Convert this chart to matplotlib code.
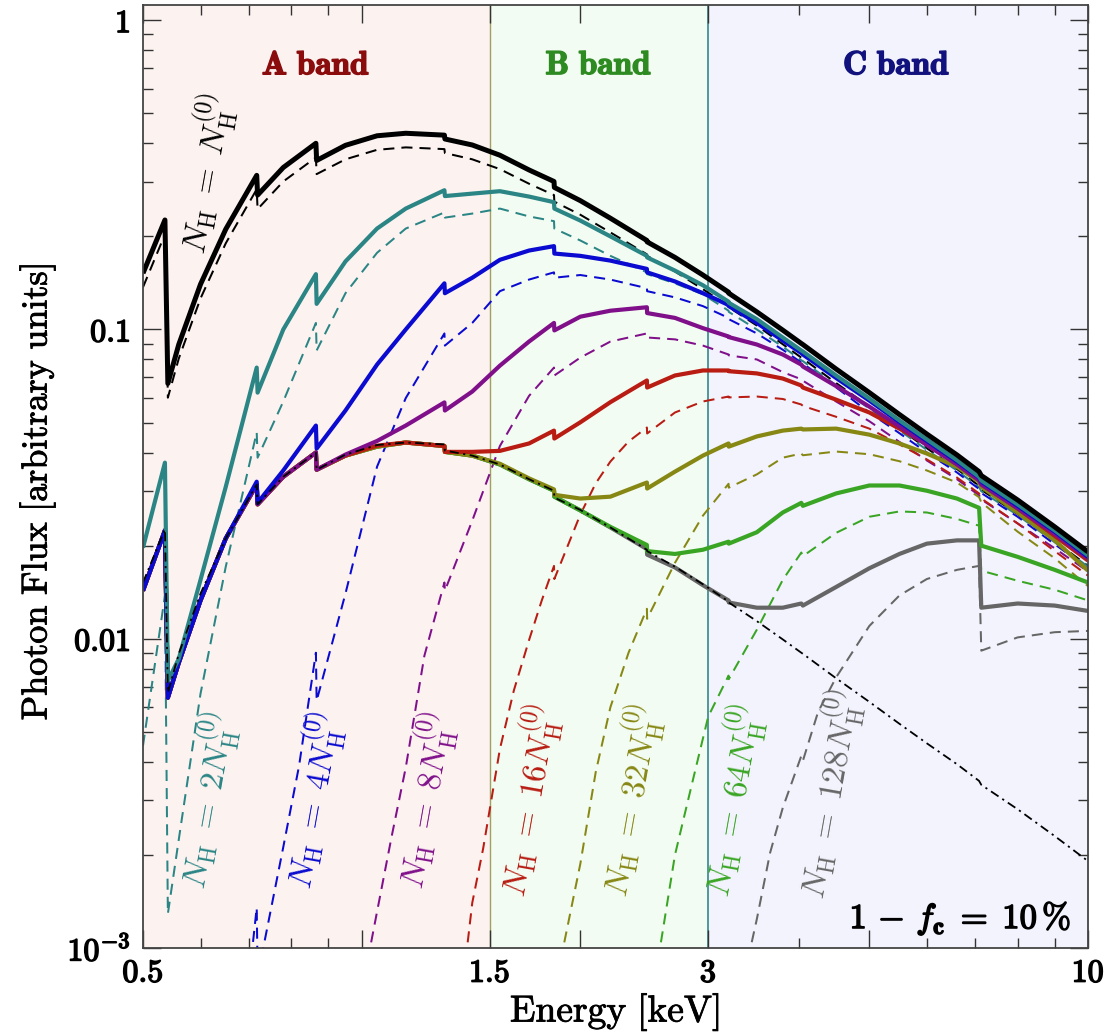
import matplotlib
matplotlib.use("Agg")
import matplotlib.pyplot as plt
import matplotlib.patheffects as pe
from matplotlib.ticker import FixedLocator, FixedFormatter, NullFormatter, LogLocator

plt.rcParams["mathtext.fontset"] = "cm"
plt.rcParams["font.family"] = ["DejaVu Serif"]
plt.rcParams["axes.unicode_minus"] = False

# ---------------- data ----------------
energy_grid = [0.50, 0.536, 0.541, 0.56, 0.60, 0.65, 0.717, 0.719, 0.78, 0.865, 0.867,
               0.95, 1.05, 1.15, 1.30, 1.302, 1.42, 1.55, 1.70, 1.84, 1.842, 2.0, 2.2,
               2.47, 2.472, 2.7, 2.95, 3.2, 3.202, 3.5, 3.8, 4.03, 4.05, 4.5, 5.0, 5.5,
               6.0, 6.6, 7.08, 7.13, 8.0, 9.0, 10.0]

# total spectra (solid lines) on energy_grid
flux_1x_total = [0.152, 0.226, 0.0669, 0.0894, 0.140, 0.211, 0.315, 0.272, 0.334, 0.400, 0.352,
                 0.394, 0.423, 0.431, 0.425, 0.413, 0.395, 0.366, 0.328, 0.301, 0.288, 0.261, 0.229,
                 0.194, 0.192, 0.171, 0.150, 0.132, 0.131, 0.114, 0.0995, 0.0901, 0.0894, 0.0745,
                 0.0625, 0.0531, 0.0459, 0.0393, 0.0347, 0.0337, 0.0281, 0.0230, 0.0191]
flux_2x_total = [0.0197, 0.0371, 0.00731, 0.00861, 0.0155, 0.0310, 0.0753, 0.0625, 0.100, 0.151, 0.121,
                 0.166, 0.212, 0.246, 0.282, 0.270, 0.275, 0.280, 0.269, 0.258, 0.246, 0.225, 0.200,
                 0.173, 0.171, 0.155, 0.139, 0.123, 0.122, 0.108, 0.0942, 0.0855, 0.0849, 0.0710,
                 0.0598, 0.0508, 0.0441, 0.0378, 0.0334, 0.0325, 0.0272, 0.0224, 0.0186]
flux_4x_total = [0.0143, 0.0224, 0.00645, 0.00836, 0.0133, 0.0211, 0.0322, 0.0275, 0.0350, 0.0489, 0.0412,
                 0.0547, 0.0770, 0.100, 0.141, 0.131, 0.147, 0.168, 0.180, 0.186, 0.176, 0.173, 0.167,
                 0.157, 0.153, 0.143, 0.131, 0.120, 0.119, 0.105, 0.0921, 0.0839, 0.0830, 0.0697,
                 0.0589, 0.0502, 0.0436, 0.0374, 0.0332, 0.0322, 0.0269, 0.0222, 0.0184]
flux_8x_total = [0.0143, 0.0224, 0.00645, 0.00836, 0.0133, 0.0211, 0.0315, 0.0272, 0.0334, 0.0400, 0.0352,
                 0.0394, 0.0436, 0.0489, 0.0581, 0.0547, 0.0630, 0.0764, 0.0914, 0.105, 0.0993, 0.110, 0.115,
                 0.118, 0.113, 0.109, 0.101, 0.0949, 0.0945, 0.0894, 0.0830, 0.0770, 0.0759, 0.0656,
                 0.0563, 0.0486, 0.0423, 0.0366, 0.0325, 0.0315, 0.0264, 0.0218, 0.0182]
flux_16x_total = [0.0143, 0.0224, 0.00645, 0.00836, 0.0133, 0.0211, 0.0315, 0.0272, 0.0334, 0.0400, 0.0352,
                  0.0391, 0.0421, 0.0431, 0.0420, 0.0402, 0.0402, 0.0405, 0.0428, 0.0471, 0.0444, 0.0501, 0.0582,
                  0.0684, 0.0649, 0.0710, 0.0737, 0.0737, 0.0733, 0.0721, 0.0694, 0.0659, 0.0649, 0.0593,
                  0.0539, 0.0478, 0.0425, 0.0371, 0.0329, 0.0317, 0.0264, 0.0215, 0.0179]
flux_32x_total = [0.0143, 0.0224, 0.00645, 0.00836, 0.0133, 0.0211, 0.0315, 0.0272, 0.0334, 0.0400, 0.0352,
                  0.0391, 0.0418, 0.0431, 0.0420, 0.0402, 0.0391, 0.0368, 0.0330, 0.0304, 0.0292, 0.0284, 0.0288,
                  0.0320, 0.0306, 0.0347, 0.0391, 0.0428, 0.0418, 0.0451, 0.0471, 0.0478, 0.0475, 0.0478,
                  0.0457, 0.0428, 0.0397, 0.0360, 0.0322, 0.0310, 0.0256, 0.0208, 0.0166]
flux_64x_total = [0.0143, 0.0224, 0.00645, 0.00836, 0.0133, 0.0211, 0.0315, 0.0272, 0.0334, 0.0400, 0.0352,
                  0.0391, 0.0418, 0.0431, 0.0420, 0.0402, 0.0391, 0.0366, 0.0328, 0.0301, 0.0288, 0.0260, 0.0230,
                  0.0201, 0.0192, 0.0188, 0.0194, 0.0206, 0.0203, 0.0221, 0.0256, 0.0275, 0.0269, 0.0295,
                  0.0313, 0.0313, 0.0301, 0.0284, 0.0265, 0.0200, 0.0184, 0.0167, 0.0152]
flux_128x_total = [0.0143, 0.0224, 0.00645, 0.00836, 0.0133, 0.0211, 0.0315, 0.0272, 0.0334, 0.0400, 0.0352,
                   0.0391, 0.0418, 0.0431, 0.0420, 0.0402, 0.0391, 0.0366, 0.0328, 0.0301, 0.0288, 0.0260, 0.0229,
                   0.0195, 0.0187, 0.0170, 0.0149, 0.0133, 0.0131, 0.0126, 0.0126, 0.0130, 0.0128, 0.0147,
                   0.0169, 0.0188, 0.0203, 0.0208, 0.0208, 0.0126, 0.0130, 0.0128, 0.0123]
# uncovered (leaking) fraction, dash-dot line
flux_leak = [0.0152, 0.0226, 0.00669, 0.00894, 0.0140, 0.0211, 0.0315, 0.0272, 0.0334, 0.0400, 0.0352,
             0.0394, 0.0423, 0.0431, 0.0425, 0.0406, 0.0391, 0.0366, 0.0328, 0.0301, 0.0286, 0.0261, 0.0229,
             0.0194, 0.0192, 0.0171, 0.0150, 0.0132, 0.0131, 0.0114, 0.00995, 0.00901, 0.00894, 0.00745,
             0.00625, 0.00531, 0.00459, 0.00393, 0.00347, 0.00337, 0.00281, 0.00230, 0.00191]

# covered components (dashed lines)
flux_1x_covered = [0.137, 0.203, 0.0602, 0.0805, 0.126, 0.190, 0.284, 0.245, 0.301, 0.360, 0.318,
                   0.355, 0.381, 0.388, 0.383, 0.372, 0.355, 0.330, 0.296, 0.272, 0.259, 0.235, 0.206,
                   0.175, 0.173, 0.154, 0.135, 0.119, 0.118, 0.103, 0.0896, 0.0811, 0.0805, 0.0671,
                   0.0563, 0.0478, 0.0413, 0.0354, 0.0312, 0.0303, 0.0253, 0.0207, 0.0172]
flux_2x_covered = [0.00451, 0.0138, 0.00129, 0.00224, 0.00664, 0.0171, 0.0465, 0.0385, 0.0585, 0.105, 0.0855,
                   0.131, 0.177, 0.212, 0.239, 0.230, 0.237, 0.246, 0.232, 0.224, 0.212, 0.194, 0.173,
                   0.153, 0.151, 0.141, 0.130, 0.115, 0.114, 0.100, 0.0880, 0.0795, 0.0790, 0.0660,
                   0.0555, 0.0472, 0.0408, 0.0350, 0.0309, 0.0300, 0.0251, 0.0205, 0.0171]

energy_4x_covered = [0.70, 0.717, 0.719, 0.732, 0.78, 0.82, 0.865, 0.867, 0.95, 1.05, 1.15, 1.30, 1.302,
                     1.42, 1.55, 1.70, 1.84, 1.842, 2.0, 2.2, 2.47, 2.472, 2.7, 2.95, 3.2, 3.202, 3.5,
                     3.8, 4.03, 4.05, 4.5, 5.0, 5.5, 6.0, 6.6, 7.08, 7.13, 8.0, 9.0, 10.0]
flux_4x_covered = [0.0008, 0.00135, 0.00085, 0.00100, 0.00212, 0.00388, 0.00901, 0.00630, 0.0140, 0.0360,
                   0.060, 0.0971, 0.0887, 0.105, 0.133, 0.145, 0.153, 0.147, 0.150, 0.145, 0.136, 0.133,
                   0.127, 0.119, 0.109, 0.108, 0.0971, 0.0860, 0.0782, 0.0776, 0.0650, 0.0539, 0.0462,
                   0.0400, 0.0345, 0.0305, 0.0296, 0.0248, 0.0202, 0.0169]

energy_8x_covered = [1.00, 1.027, 1.05, 1.10, 1.15, 1.22, 1.30, 1.302, 1.42, 1.55, 1.70, 1.84, 1.842, 2.0,
                     2.2, 2.47, 2.472, 2.7, 2.95, 3.2, 3.202, 3.5, 3.8, 4.03, 4.05, 4.5, 5.0, 5.5, 6.0,
                     6.6, 7.08, 7.13, 8.0, 9.0, 10.0]
flux_8x_covered = [0.0007, 0.00100, 0.00131, 0.00230, 0.00383, 0.00881, 0.0152, 0.0143, 0.0241, 0.042,
                   0.061, 0.0753, 0.0710, 0.0811, 0.0914, 0.0971, 0.0942, 0.0929, 0.0887, 0.083, 0.0825,
                   0.080, 0.0728, 0.0690, 0.0683, 0.0585, 0.0505, 0.0433, 0.0377, 0.0328, 0.0291, 0.0282,
                   0.0236, 0.0196, 0.0165]

energy_16x_covered = [1.37, 1.40, 1.42, 1.47, 1.55, 1.62, 1.70, 1.77, 1.84, 1.842, 2.0, 2.1, 2.2, 2.33,
                      2.47, 2.472, 2.7, 2.95, 3.2, 3.202, 3.5, 3.8, 4.03, 4.05, 4.5, 5.0, 5.5, 6.0, 6.6,
                      7.08, 7.13, 8.0, 9.0, 10.0]
flux_16x_covered = [0.0008, 0.00105, 0.00140, 0.00210, 0.00440, 0.00680, 0.0099, 0.0133, 0.0172, 0.0156,
                    0.0252, 0.0318, 0.0374, 0.0434, 0.0482, 0.0461, 0.0539, 0.0585, 0.0607, 0.0603, 0.0607,
                    0.0596, 0.0572, 0.0566, 0.0522, 0.0478, 0.0425, 0.0380, 0.0332, 0.0295, 0.0284, 0.0236,
                    0.0192, 0.0160]

energy_32x_covered = [1.86, 1.894, 2.0, 2.1, 2.2, 2.33, 2.47, 2.472, 2.7, 2.95, 3.2, 3.202, 3.5, 3.8,
                      4.03, 4.05, 4.5, 5.0, 5.5, 6.0, 6.6, 7.08, 7.13, 8.0, 9.0, 10.0]
flux_32x_covered = [0.0008, 0.0010, 0.00187, 0.0037, 0.0060, 0.0090, 0.0125, 0.0116, 0.0176, 0.0250,
                    0.0317, 0.0308, 0.0340, 0.0385, 0.0397, 0.0392, 0.0403, 0.0395, 0.0375, 0.0350, 0.0320,
                    0.0287, 0.0276, 0.0222, 0.0182, 0.0148]

energy_64x_covered = [2.53, 2.575, 2.7, 2.85, 3.0, 3.2, 3.202, 3.5, 3.8, 4.03, 4.05, 4.5, 5.0, 5.5, 6.0,
                      6.6, 7.08, 7.13, 8.0, 9.0, 10.0]
flux_64x_covered = [0.0008, 0.0010, 0.0020, 0.0034, 0.0056, 0.0076, 0.0074, 0.0107, 0.0155, 0.0190, 0.0185,
                    0.0220, 0.0248, 0.0258, 0.0256, 0.0244, 0.0232, 0.0166, 0.0154, 0.0144, 0.0133]

energy_128x_covered = [3.38, 3.43, 3.5, 3.65, 3.8, 4.03, 4.05, 4.25, 4.5, 5.0, 5.5, 6.0, 6.6, 7.08, 7.13,
                       8.0, 9.0, 10.0]
flux_128x_covered = [0.0008, 0.0010, 0.00124, 0.00203, 0.00284, 0.00418, 0.00403, 0.0058, 0.0075, 0.0110,
                     0.0138, 0.0156, 0.0167, 0.0172, 0.00915, 0.0101, 0.0105, 0.0106]

curve_names = ["1", "2", "4", "8", "16", "32", "64", "128"]
curve_colors = ["#000000", "#2b8585", "#0a0ad0", "#80108a", "#b81c12", "#878714", "#3aa524", "#666666"]

band_edges = [0.5, 1.5, 3.0, 10.0]
band_names = ["A band", "B band", "C band"]
band_label_x = [0.865, 2.12, 5.45]
band_fill = ["#fcf3f1", "#f3fcf2", "#f2f3fc"]
band_text = ["#8a0c0c", "#2e8b22", "#12127e"]

x_major = [0.5, 1, 1.5, 2, 3, 5, 10]
x_major_labels = ["0.5", "", "1.5", "", "3", "", "10"]
x_minor = [0.6, 0.7, 0.8, 0.9, 4, 6, 7, 8, 9]
y_major = [1e-3, 1e-2, 1e-1, 1]
y_major_labels = [r"$\mathbf{10^{-3}}$", r"$\mathbf{0.01}$", r"$\mathbf{0.1}$", r"$\mathbf{1}$"]

# label anchor points (energy, flux)
label_pos = [(0.610, 0.320), (0.612, 0.0030), (0.857, 0.0030), (1.223, 0.0030),
             (1.695, 0.0030), (2.344, 0.0030), (3.237, 0.0030), (4.40, 0.00315)]

# ---------------- figure ----------------
W, H = 1112, 1036
fig = plt.figure(figsize=(W / 100, H / 100), dpi=100)
ax = fig.add_axes([143 / W, 1 - 948 / H, (1088 - 143) / W, (948 - 5) / H])
ax.set_xscale("log")
ax.set_yscale("log")
ax.set_xlim(0.5, 10)
ax.set_ylim(1e-3, 1.12)

for i in range(3):
    ax.axvspan(band_edges[i], band_edges[i + 1], color=band_fill[i], lw=0, zorder=0)
ax.axvline(1.5, color="#a0a060", lw=1.0, zorder=1)
ax.axvline(3.0, color="#4f9999", lw=1.4, zorder=1)

covered = [(energy_grid, flux_1x_covered), (energy_grid, flux_2x_covered),
           (energy_4x_covered, flux_4x_covered), (energy_8x_covered, flux_8x_covered),
           (energy_16x_covered, flux_16x_covered), (energy_32x_covered, flux_32x_covered),
           (energy_64x_covered, flux_64x_covered), (energy_128x_covered, flux_128x_covered)]
totals = [flux_1x_total, flux_2x_total, flux_4x_total, flux_8x_total,
          flux_16x_total, flux_32x_total, flux_64x_total, flux_128x_total]

for i, (e, f) in enumerate(covered):
    ax.plot(e, f, color=curve_colors[i], lw=1.45, dashes=(5.5, 3.5), zorder=2)

for i in range(7, -1, -1):
    lw = 3.6 if i == 0 else 3.0
    ax.plot(energy_grid, totals[i], color=curve_colors[i], lw=lw, zorder=3 + (7 - i),
            solid_joinstyle="round", solid_capstyle="butt")

ax.plot(energy_grid, flux_leak, color="black", lw=1.3, dashes=(5, 2.5, 1.2, 2.5), zorder=12)

# labels
for i, name in enumerate(curve_names):
    pre = "" if name == "1" else name
    txt = r"$N_{\rm H}\;=\;" + pre + r"N_{\rm H}^{(0)}$"
    ax.text(label_pos[i][0], label_pos[i][1], txt, color=curve_colors[i], fontsize=24,
            rotation=80, rotation_mode="anchor", ha="center", va="center", zorder=13)

for i in range(3):
    t = ax.text(band_label_x[i], 0.715, r"$\mathbf{" + band_names[i].replace(" ", r"\ ") + "}$",
                color=band_text[i], fontsize=24, ha="center", va="center", zorder=13)
    t.set_path_effects([pe.withStroke(linewidth=1.1, foreground=band_text[i])])

t = ax.text(6.67, 0.00125, r"$\mathbf{1}\,-\,\mathit{f}_{\mathbf{c}}\;=\;\mathbf{10}\,\mathbf{\%}$",
            fontsize=25, ha="center", va="center", zorder=13)
t.set_path_effects([pe.withStroke(linewidth=1.1, foreground="black")])

# axes styling
ax.xaxis.set_major_locator(FixedLocator(x_major))
ax.xaxis.set_major_formatter(FixedFormatter([r"$\mathbf{%s}$" % s if s else "" for s in x_major_labels]))
ax.xaxis.set_minor_locator(FixedLocator(x_minor))
ax.xaxis.set_minor_formatter(NullFormatter())
ax.yaxis.set_major_locator(FixedLocator(y_major))
ax.yaxis.set_major_formatter(FixedFormatter(y_major_labels))
ax.yaxis.set_minor_locator(LogLocator(base=10, subs=[2, 3, 4, 5, 6, 7, 8, 9], numticks=20))
ax.yaxis.set_minor_formatter(NullFormatter())
ax.tick_params(which="both", direction="in", top=True, right=True, color="#333333", width=1.0)
ax.tick_params(which="major", length=13)
ax.tick_params(which="minor", length=7.5)
ax.tick_params(axis="x", which="major", labelsize=23, pad=7)
ax.tick_params(axis="y", which="major", labelsize=23, pad=9)
for lab in ax.get_xticklabels() + ax.get_yticklabels():
    lab.set_path_effects([pe.withStroke(linewidth=1.1, foreground="black")])
for sp in ax.spines.values():
    sp.set_color("#444444")
    sp.set_linewidth(1.3)
    sp.set_zorder(20)

yl = fig.text(38 / W, 1 - 492 / H, r"$\mathrm{Photon\ Flux\ [arbitrary\ units]}$", rotation=90,
              fontsize=26, ha="center", va="center")
xl = fig.text(615 / W, 1 - 1012 / H, r"$\mathrm{Energy\ [keV]}$", fontsize=27, ha="center", va="center")
for t in (yl, xl):
    t.set_path_effects([pe.withStroke(linewidth=0.6, foreground="black")])

fig.savefig("out.png", dpi=100)
